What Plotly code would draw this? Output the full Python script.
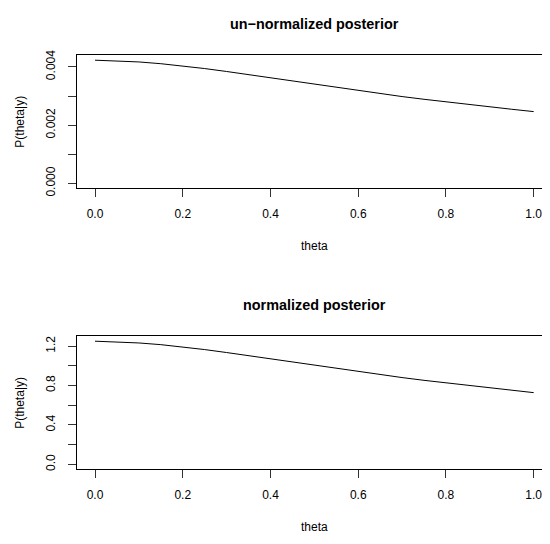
import plotly.graph_objects as go

theta = [0.0, 0.05, 0.1, 0.15, 0.2, 0.25, 0.3, 0.35, 0.4, 0.45, 0.5,
         0.55, 0.6, 0.65, 0.7, 0.75, 0.8, 0.85, 0.9, 0.95, 1.0]
unnorm = [0.004230, 0.004210, 0.004170, 0.004110, 0.004035, 0.003943,
          0.003842, 0.003733, 0.003620, 0.003506, 0.003393, 0.003284,
          0.003179, 0.003078, 0.002981, 0.002888, 0.002798, 0.002711,
          0.002627, 0.002545, 0.002465]
norm = [1.250, 1.244, 1.232, 1.215, 1.192, 1.165, 1.135, 1.103, 1.070,
        1.036, 1.003, 0.970, 0.939, 0.910, 0.881, 0.853, 0.827, 0.801,
        0.776, 0.752, 0.728]

x_ticks = [0.0, 0.2, 0.4, 0.6, 0.8, 1.0]
x_ticktext = ["0.0", "0.2", "0.4", "0.6", "0.8", "1.0"]
y1_ticks = [0.0, 0.001, 0.002, 0.003, 0.004]
y1_ticktext = ["0.000", "", "0.002", "", "0.004"]
y2_ticks = [0.0, 0.2, 0.4, 0.6, 0.8, 1.0, 1.2]
y2_ticktext = ["0.0", "", "0.4", "", "0.8", "", "1.2"]

titles = ["un\u2212normalized posterior", "normalized posterior"]
xlab = "theta"
ylab = "P(theta|y)"

# page body has an 8px margin; compensate so the figure fills the window
OFF = 8
W, H = 550 - OFF, 544 - OFF
FONT = "Liberation Sans, Arial, sans-serif"

fig = go.Figure()
fig.add_trace(go.Scatter(x=theta, y=unnorm, mode="lines",
                         line=dict(color="black", width=1),
                         xaxis="x", yaxis="y", showlegend=False, hoverinfo="skip"))
fig.add_trace(go.Scatter(x=theta, y=norm, mode="lines",
                         line=dict(color="black", width=1),
                         xaxis="x2", yaxis="y2", showlegend=False, hoverinfo="skip"))

# target pixel layout (window coords), converted to figure coords
def px(v):
    return (v - OFF) / W

def py(v):
    return 1 - (v - OFF) / H

left = 77
top1, bot1 = 51, 187.7
top2, bot2 = 339.3, 475.7

xdom = [px(left), 1.0]
y1dom = [py(bot1), py(top1)]
y2dom = [py(bot2), py(top2)]
# 0 -> 95px, 1 -> 533.7px ; right edge of figure at 550px
scale = 438.7
xrange = [(left - 95) / scale, (550 - 95) / scale]

common_x = dict(range=xrange, tickvals=x_ticks, ticktext=x_ticktext,
                ticks="outside", ticklen=8, tickcolor="#333", tickwidth=1,
                showline=True, linecolor="black", linewidth=1, mirror=True,
                showgrid=False, zeroline=False,
                tickfont=dict(family=FONT, size=12, color="black"),
                ticklabelstandoff=6)
common_y = dict(ticks="outside", ticklen=8, tickcolor="#333", tickwidth=1,
                showline=True, linecolor="black", linewidth=1, mirror=False,
                showgrid=False, zeroline=False, tickangle=-90,
                tickfont=dict(family=FONT, size=12, color="black"),
                ticklabelstandoff=8)

fig.update_layout(
    width=W, height=H,
    margin=dict(l=0, r=0, t=0, b=0, pad=0),
    paper_bgcolor="white", plot_bgcolor="white",
    xaxis=dict(domain=xdom, anchor="y", **common_x),
    yaxis=dict(domain=y1dom, anchor="x", range=[-0.00017, 0.00441],
               tickvals=y1_ticks, ticktext=y1_ticktext, **common_y),
    xaxis2=dict(domain=xdom, anchor="y2", **common_x),
    yaxis2=dict(domain=y2dom, anchor="x2", range=[-0.05, 1.30],
                tickvals=y2_ticks, ticktext=y2_ticktext, **common_y),
    showlegend=False,
)

xc = px(314)
ann = []
for (tp, bt, ttl) in [(top1, bot1, titles[0]), (top2, bot2, titles[1])]:
    ann.append(dict(text="<b>" + ttl + "</b>", x=xc, y=py(tp - 32),
                    xref="paper", yref="paper", xanchor="center", yanchor="middle",
                    showarrow=False, font=dict(family=FONT, size=14.4, color="black")))
    ann.append(dict(text=xlab, x=xc, y=py(bt + 59.5),
                    xref="paper", yref="paper", xanchor="center", yanchor="middle",
                    showarrow=False, font=dict(family=FONT, size=12, color="black")))
    ann.append(dict(text=ylab, x=px(20), y=py((tp + bt) / 2),
                    xref="paper", yref="paper", xanchor="center", yanchor="middle",
                    textangle=-90, showarrow=False,
                    font=dict(family=FONT, size=12, color="black")))
fig.update_layout(annotations=ann)

fig.write_html("out.html")
